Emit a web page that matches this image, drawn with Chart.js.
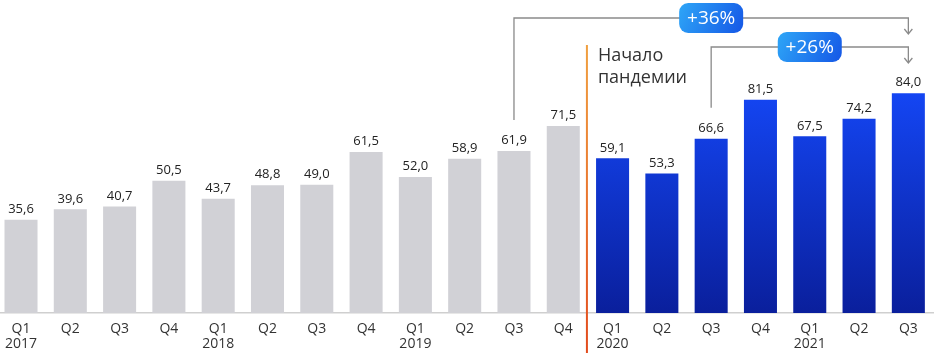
<!DOCTYPE html>
<html>
<head>
<meta charset="utf-8">
<script src="https://cdn.jsdelivr.net/npm/chart.js@4.4.1/dist/chart.umd.min.js"></script>
<style>
  html, body { margin: 0; padding: 0; background: #fff; overflow: hidden; }
  #wrap { position: absolute; left: -4px; top: 0; width: 950px; height: 353px; }
</style>
</head>
<body>
<div id="wrap"><canvas id="c" width="950" height="353"></canvas></div>
<script>
// ---- data ----
const quarters = ['Q1','Q2','Q3','Q4','Q1','Q2','Q3','Q4','Q1','Q2','Q3','Q4','Q1','Q2','Q3','Q4','Q1','Q2','Q3'];
const years    = ['2017','','','','2018','','','','2019','','','','2020','','','','2021','',''];
const values   = [35.6,39.6,40.7,50.5,43.7,48.8,49.0,61.5,52.0,58.9,61.9,71.5,59.1,53.3,66.6,81.5,67.5,74.2,84.0];
const pandemicStartIndex = 12;
const pandemicText = ['Начало', 'пандемии'];
const growthFrom  = [10, 14];
const growthTo    = [18, 18];
const growthLabel = ['+36%', '+26%'];

const labels = quarters.map((q, i) => years[i] ? [q, years[i]] : q);

function fmt(v) { return v.toFixed(1).replace('.', ','); }

const valueLabels = {
  id: 'valueLabels',
  afterDatasetsDraw(chart) {
    const ctx = chart.ctx;
    const meta = chart.getDatasetMeta(0);
    ctx.save();
    ctx.font = '13px "Open Sans"';
    ctx.fillStyle = '#222';
    ctx.textAlign = 'center';
    ctx.textBaseline = 'bottom';
    meta.data.forEach((bar, i) => {
      ctx.fillText(fmt(values[i]), bar.x, bar.y - 4);
    });
    ctx.restore();
  }
};

const annotations = {
  id: 'annotations',
  afterDraw(chart) {
    const ctx = chart.ctx;
    const xs = chart.scales.x, ys = chart.scales.y;
    const meta = chart.getDatasetMeta(0);
    ctx.save();
    // pandemic line
    const px = (xs.getPixelForValue(pandemicStartIndex - 1) + xs.getPixelForValue(pandemicStartIndex)) / 2 - 1;
    const g = ctx.createLinearGradient(0, 45, 0, 353);
    g.addColorStop(0, '#f0a040');
    g.addColorStop(1, '#e24a1c');
    ctx.strokeStyle = g;
    ctx.lineWidth = 2;
    ctx.beginPath();
    ctx.moveTo(px, 45);
    ctx.lineTo(px, 353);
    ctx.stroke();
    ctx.fillStyle = '#333';
    ctx.font = '18px "Open Sans"';
    ctx.textAlign = 'left';
    ctx.textBaseline = 'middle';
    ctx.fillText(pandemicText[0], px + 11, 56);
    ctx.fillText(pandemicText[1], px + 11, 78);

    // growth brackets
    const levels = [18, 47];
    growthFrom.forEach((f, k) => {
      const t = growthTo[k];
      const x1 = meta.data[f].x, x2 = meta.data[t].x;
      const yl = levels[k];
      const yEnd = meta.data[f].y - 31;
      ctx.strokeStyle = '#8a8a8a';
      ctx.lineWidth = 1.3;
      ctx.beginPath();
      ctx.moveTo(x1, yEnd);
      ctx.lineTo(x1, yl);
      ctx.lineTo(x2, yl);
      ctx.lineTo(x2, yl + 15);
      ctx.stroke();
      ctx.beginPath();
      ctx.moveTo(x2 - 4, yl + 11);
      ctx.lineTo(x2, yl + 16);
      ctx.lineTo(x2 + 4, yl + 11);
      ctx.stroke();
      // badge
      const cx = (x1 + x2) / 2, bw = 64, bh = 30;
      const bx = cx - bw / 2, by = yl - bh / 2;
      const bg = ctx.createLinearGradient(bx, by, bx + bw, by + bh);
      bg.addColorStop(0, '#2ea6f7');
      bg.addColorStop(1, '#1557e6');
      ctx.fillStyle = bg;
      ctx.beginPath();
      ctx.roundRect(bx, by, bw, bh, 9);
      ctx.fill();
      ctx.fillStyle = '#fff';
      ctx.font = '19px "Open Sans"';
      ctx.textAlign = 'center';
      ctx.textBaseline = 'middle';
      ctx.fillText(growthLabel[k], cx, yl + 1);
    });
    ctx.restore();
  }
};

const ctx = document.getElementById('c').getContext('2d');
new Chart(ctx, {
  type: 'bar',
  data: {
    labels: labels,
    datasets: [{
      data: values,
      backgroundColor: (c) => {
        const i = c.dataIndex;
        if (i < pandemicStartIndex) return '#d1d1d6';
        const area = c.chart.chartArea;
        if (!area) return '#1036e0';
        const gr = c.chart.ctx.createLinearGradient(0, 90, 0, area.bottom);
        gr.addColorStop(0, '#1446f4');
        gr.addColorStop(1, '#0a1f9c');
        return gr;
      },
      borderWidth: 0,
      categoryPercentage: 1,
      barPercentage: 0.67
    }]
  },
  options: {
    responsive: false,
    animation: false,
    layout: { padding: { left: 0, right: 13, top: 0, bottom: 0 } },
    plugins: { legend: { display: false }, tooltip: { enabled: false } },
    scales: {
      x: {
        grid: { display: false, drawTicks: false },
        border: { display: true, color: '#cfcfcf', width: 1.5 },
        ticks: {
          color: '#333',
          font: { family: '"Open Sans"', size: 14, lineHeight: '15px' },
          padding: 9,
          maxRotation: 0,
          autoSkip: false
        },
        afterFit(scale) { scale.height = 40; }
      },
      y: {
        display: false,
        min: 0,
        max: 119.6
      }
    }
  },
  plugins: [valueLabels, annotations]
});
</script>
</body>
</html>
